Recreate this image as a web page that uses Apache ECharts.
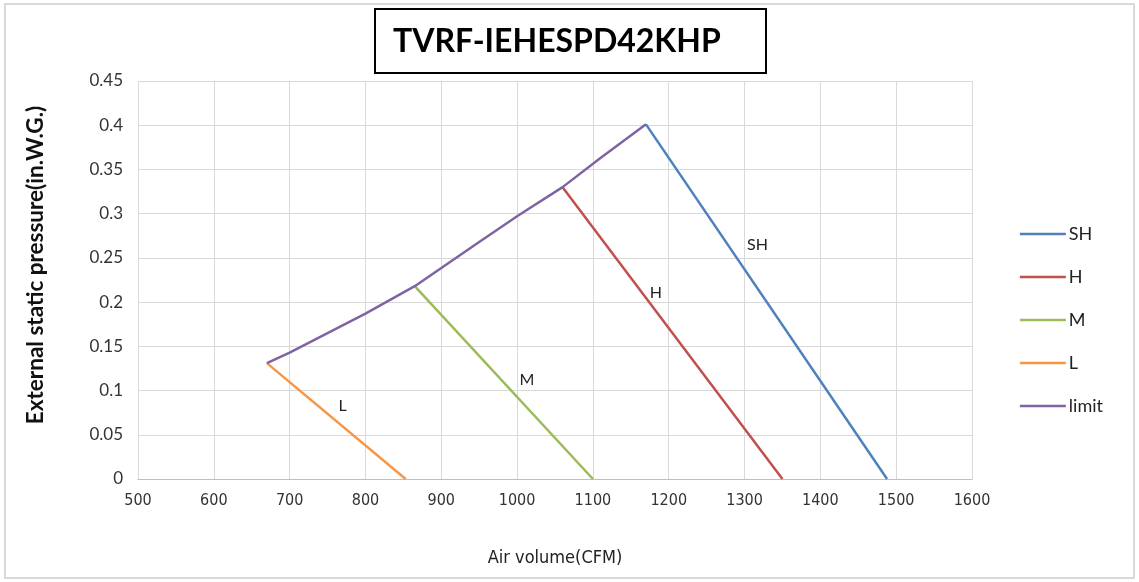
<!DOCTYPE html>
<html>
<head>
<meta charset="utf-8">
<script src="https://cdn.jsdelivr.net/npm/echarts@6/dist/echarts.min.js"></script>
<style>
  html, body { margin: 0; padding: 0; background: #fff; }
  #chart { width: 1139px; height: 582px; }
</style>
</head>
<body>
<div id="chart"></div>
<script>
// curves: [air volume, pressure]
const SH_PTS = [[1170, 0.401], [1488, 0]];
const H_PTS = [[1060, 0.330], [1350, 0]];
const M_PTS = [[865, 0.218], [1100, 0]];
const L_PTS = [[670, 0.131], [853, 0]];
const LIMIT_PTS = [[670, 0.131], [700, 0.143], [800, 0.187], [865, 0.218], [950, 0.268],
                   [1000, 0.297], [1060, 0.330], [1110, 0.363], [1170, 0.401]];

// where the little name tags sit
const TAG_POS = { SH: [1317, 0.265], H: [1183, 0.211], M: [1013, 0.112], L: [770, 0.083] };

const COLORS = { SH: '#4F81BD', H: '#C0504D', M: '#9BBB59', L: '#F79646', limit: '#8064A2' };

const NARROW = '"DejaVu Sans Condensed", "Liberation Sans Narrow", "Liberation Sans", sans-serif';

function lineSeries(name, pts) {
    let s = {
        name: name,
        type: 'line',
        data: pts,
        showSymbol: false,
        lineStyle: { color: COLORS[name], width: 2.5 },
        itemStyle: { color: COLORS[name] },
        z: name == 'limit' ? 3 : 2
    };
    if (TAG_POS[name]) {
        s.markPoint = {
            symbol: 'circle',
            symbolSize: 1,
            itemStyle: { color: 'transparent' },
            label: { show: true, formatter: name, color: '#222', fontSize: 16, fontFamily: 'Lato', position: 'inside' },
            data: [{ coord: TAG_POS[name] }]
        };
    }
    return s;
}

let chart = echarts.init(document.getElementById('chart'));
chart.setOption({
    animation: false,
    grid: { left: 138, right: 167, top: 81, bottom: 103 },
    graphic: [
        { type: 'rect', shape: { x: 5, y: 4, width: 1129, height: 574 },
          style: { fill: 'none', stroke: '#d9d9d9', lineWidth: 2 } },
        { type: 'rect', shape: { x: 375, y: 9, width: 391, height: 64 },
          style: { fill: '#fff', stroke: '#000', lineWidth: 2 } },
        { type: 'text', x: 393, y: 42,
          style: { text: 'TVRF-IEHESPD42KHP', fill: '#000', font: 'bold 32px Lato', textVerticalAlign: 'middle' } }
    ],
    legend: {
        orient: 'vertical',
        right: 31,
        top: 220,
        itemWidth: 46,
        itemHeight: 14,
        itemGap: 25,
        icon: 'path://M0,6 L46,6 L46,8.5 L0,8.5 Z',
        data: ['SH', 'H', 'M', 'L', 'limit'],
        textStyle: { fontSize: 18, fontFamily: 'Lato', color: '#222', padding: [0, 0, 0, -2] }
    },
    xAxis: {
        type: 'value',
        min: 500, max: 1600, interval: 100,
        name: 'Air volume(CFM)',
        nameLocation: 'middle',
        nameGap: 70,
        nameTextStyle: { fontSize: 18, fontFamily: NARROW, color: '#222' },
        axisLine: { show: true, lineStyle: { color: '#bfbfbf' } },
        axisTick: { show: false },
        axisLabel: { fontSize: 16, fontFamily: NARROW, color: '#333', margin: 14,
                     formatter: v => String(v) },
        splitLine: { show: true, lineStyle: { color: '#d9d9d9' } }
    },
    yAxis: {
        type: 'value',
        min: 0, max: 0.45, interval: 0.05,
        name: 'External static pressure(in.W.G.)',
        nameLocation: 'middle',
        nameGap: 91,
        nameTextStyle: { fontSize: 22.5, fontWeight: 'bold', fontFamily: 'Lato', color: '#111',
                         padding: [0, 0, 0, 30] },
        axisLine: { show: false },
        axisTick: { show: false },
        axisLabel: { fontSize: 17, fontFamily: 'Lato', color: '#333', margin: 15,
                     formatter: v => String(+v.toFixed(2)) },
        splitLine: { show: true, lineStyle: { color: '#d9d9d9' } }
    },
    series: [
        lineSeries('SH', SH_PTS),
        lineSeries('H', H_PTS),
        lineSeries('M', M_PTS),
        lineSeries('L', L_PTS),
        lineSeries('limit', LIMIT_PTS)
    ]
});
</script>
</body>
</html>
